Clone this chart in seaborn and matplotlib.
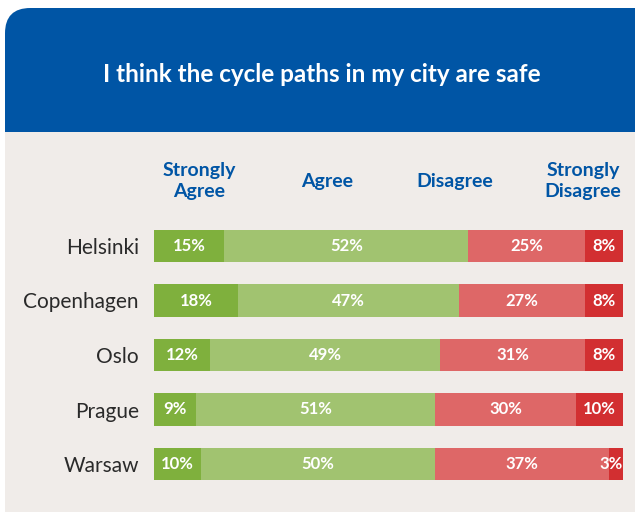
import matplotlib
matplotlib.use('Agg')
import matplotlib.pyplot as plt
from matplotlib.patches import FancyBboxPatch, Rectangle
import seaborn as sns
import pandas as pd

cities = ['Helsinki', 'Copenhagen', 'Oslo', 'Prague', 'Warsaw']
strongly_agree = [15, 18, 12, 9, 10]
agree = [52, 47, 49, 51, 50]
disagree = [25, 27, 31, 30, 37]
strongly_disagree = [8, 8, 8, 10, 3]
headers = ['Strongly\nAgree', 'Agree', 'Disagree', 'Strongly\nDisagree']
title = 'I think the cycle paths in my city are safe'

colors = ['#7fb03d', '#a1c370', '#de6767', '#d22f31']
blue = '#0055a5'
beige = '#f0ece9'

sns.set_theme(style='white')
plt.rcParams['font.family'] = ['Lato', 'DejaVu Sans']

W, H = 635, 512
fig = plt.figure(figsize=(W / 100, H / 100), dpi=100)
fig.patch.set_facecolor('white')

# card background + blue header (behind the axes)
card = FancyBboxPatch((5 / W, -0.1), 1.2, (H - 8) / H + 0.1,
                      boxstyle='round,pad=0,rounding_size=0.04',
                      transform=fig.transFigure, facecolor=beige, edgecolor='none',
                      mutation_aspect=W / H, zorder=-10)
fig.patches.append(card)
head = FancyBboxPatch((5 / W, 1 - 132 / H), 1.2, (132 - 8) / H,
                      boxstyle='round,pad=0,rounding_size=0.04',
                      transform=fig.transFigure, facecolor=blue, edgecolor='none',
                      mutation_aspect=W / H, zorder=-9)
fig.patches.append(head)
fig.patches.append(Rectangle((5 / W, 1 - 132 / H), 1.2, 30 / H,
                             transform=fig.transFigure, facecolor=blue,
                             edgecolor='none', zorder=-9))
fig.text(322 / W, 1 - 75 / H, title, color='white', fontsize=17.5, fontweight='bold',
         ha='center', va='center')

df = pd.DataFrame({'city': cities, 'sa': strongly_agree, 'a': agree,
                   'd': disagree, 'sd': strongly_disagree})
cols = ['sa', 'a', 'd', 'sd']
cum = df[cols].cumsum(axis=1)

ax = fig.add_axes([154 / W, 1 - 491.25 / H, 469 / W, 272.5 / H])
ax.set_facecolor('none')
# stacked bars: draw the running totals from the widest down
for i in range(3, -1, -1):
    sns.barplot(x=cum[cols[i]], y=df['city'], color=colors[i], orient='h',
                width=0.605, saturation=1, linewidth=0, ax=ax)

for r in range(len(cities)):
    start = 0
    for c in cols:
        v = df.loc[r, c]
        xpos = min(start + v / 2, 97.5)
        ax.text(xpos, r, f'{v}%', color='white', fontsize=12,
                fontweight='bold', ha='center', va='center', clip_on=False)
        start += v

ax.set_xlim(0, 100)
ax.set_ylim(4.5, -0.5)
ax.set_xlabel('')
ax.set_ylabel('')
ax.set_xticks([])
ax.tick_params(axis='y', length=0, pad=11, labelsize=15, labelcolor='#2a2a2a')
sns.despine(ax=ax, left=True, bottom=True)

header_x = [199, 327, 455, 583]
for hx, t in zip(header_x, headers):
    fig.text(hx / W, 1 - 181 / H, t, color=blue, fontsize=14, fontweight='bold',
             ha='center', va='center', linespacing=1.3)

fig.savefig('out.png', dpi=100, facecolor='white')
